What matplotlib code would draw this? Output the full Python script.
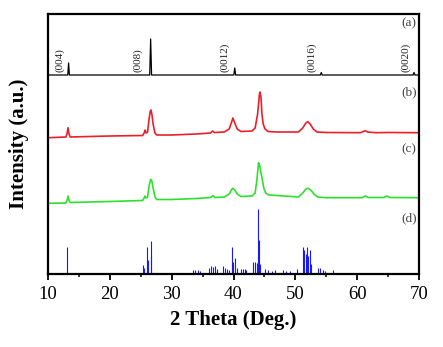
import matplotlib
matplotlib.use("Agg")
import matplotlib.pyplot as plt
from matplotlib.ticker import MultipleLocator

plt.rcParams["font.family"] = ["Liberation Serif", "DejaVu Serif"]

# (a) reference pattern: angle / intensity pairs (offset baseline)
a_x = [10.0, 13.2, 13.33, 13.46, 26.45, 26.6, 26.75, 40.05, 40.2, 40.35,
       54.05, 54.2, 54.35, 69.05, 69.2, 69.35, 70.0]
a_y = [199, 199, 211, 199, 199, 235, 199, 199, 206, 199,
       199, 201.5, 199, 199, 201.5, 199, 199]

# (b) sample pattern
b_x = [10.0, 12.9, 13.1, 13.25, 13.4, 13.6, 20.0, 25.3, 25.55, 25.7, 25.85,
       26.1, 26.35, 26.55, 26.65, 26.8, 27.0, 27.3, 27.6, 30.0, 34.0, 36.3,
       36.6, 36.9, 38.5, 39.3, 39.7, 39.9, 40.2, 40.6, 41.2, 43.0, 43.5, 43.9,
       44.2, 44.3, 44.45, 44.6, 44.8, 45.1, 45.6, 47.0, 50.5, 51.2, 51.7,
       52.0, 52.4, 52.9, 53.5, 55.0, 60.5, 61.0, 61.3, 61.7, 63.0, 65.0, 70.0]
b_y = [136.3, 137, 141, 146.3, 140, 137, 138, 138.5, 141, 144, 141,
       142, 155, 163, 164, 160, 150, 141, 139, 139, 140, 141,
       143, 141.5, 142, 145, 152, 156, 151, 145, 142.5, 143, 146, 160,
       180, 182, 176, 160, 150, 145, 142.5, 142, 142, 146, 151,
       152.3, 150, 145, 142, 141.5, 141.3, 142.5, 143.3, 142, 141.3, 141.5, 141.3]

# (c) sample pattern
c_x = [10.0, 12.9, 13.1, 13.25, 13.4, 13.6, 20.0, 25.3, 25.55, 25.7, 25.85,
       26.1, 26.35, 26.6, 26.8, 27.0, 27.3, 27.6, 30.0, 34.0, 36.3, 36.7,
       37.0, 38.5, 39.3, 39.7, 39.9, 40.2, 40.6, 41.2, 43.0, 43.5, 43.8,
       44.05, 44.25, 44.45, 44.65, 44.9, 45.2, 45.7, 47.0, 50.5, 51.2, 51.7,
       52.05, 52.5, 53.0, 53.6, 55.0, 60.8, 61.3, 61.8, 64.3, 64.8, 65.3, 70.0]
c_y = [70.7, 71, 74, 78, 73.5, 71.5, 72.5, 73.5, 76, 78, 76,
       77, 88, 94.7, 93, 86, 77, 74.5, 74.5, 75.5, 76.5, 78.3,
       76.5, 77, 80, 84.5, 85.7, 84, 80, 77.5, 78, 81, 95,
       111.3, 108, 101, 95, 86, 81, 79, 78.5, 77, 81, 85,
       85.7, 84, 80, 77, 76.3, 76.3, 78, 76.5, 76.5, 78, 76.5, 76.3]

# (d) standard reflections (stick pattern)
d_pos = [13.07, 25.3, 25.5, 26.0, 26.2, 26.6, 26.7,
         33.4, 33.8, 34.2, 34.6, 36.0, 36.4, 36.7, 37.0, 37.3,
         38.3, 38.6, 38.9, 39.2, 39.8, 39.95, 40.2, 40.5,
         41.2, 41.5, 41.8, 42.1, 43.2, 43.5, 43.75, 44.0, 44.15, 44.3,
         45.1, 45.6, 46.2, 46.7, 48.0, 48.5, 49.1, 50.3,
         51.2, 51.4, 51.7, 51.9, 52.1, 52.3, 52.5,
         53.7, 54.0, 54.4, 54.8, 56.1]
d_int = [27, 9, 6, 27, 14, 33, 18,
         4, 4, 4, 3, 6, 8, 7, 8, 5,
         8, 6, 5, 4, 27, 12, 16, 6,
         5, 5, 5, 4, 12, 12, 11, 65, 34, 10,
         5, 4, 3, 4, 4, 3, 3, 5,
         27, 24, 20, 27, 18, 24, 10,
         6, 6, 4, 3, 4]

hkl_labels = ["(004)", "(008)", "(0012)", "(0016)", "(0020)"]
hkl_pos = [11.9, 24.5, 38.6, 52.7, 67.8]
panel_labels = ["(a)", "(b)", "(c)", "(d)"]
panel_y = [251, 182, 125, 56]

fig = plt.figure(figsize=(4.43, 3.47), dpi=100)
ax = fig.add_axes([48 / 443, 73 / 347, 371 / 443, 260 / 347])

ax.plot(a_x, a_y, color="black", lw=0.9)
ax.plot(b_x, b_y, color="#e8202a", lw=1.2)
ax.plot(c_x, c_y, color="#2ee02e", lw=1.2)
ax.vlines(d_pos, 0, d_int, color="#1a1aee", lw=0.8)

for lab, xp in zip(hkl_labels, hkl_pos):
    ax.text(xp, 202, lab, rotation=90, ha="center", va="bottom",
            fontsize=8, color="#222222")

for lab, yp in zip(panel_labels, panel_y):
    ax.text(69.6, yp, lab, ha="right", va="center", fontsize=9.5,
            color="#444444")

ax.set_xlim(10, 70)
ax.set_ylim(0, 260)
ax.set_yticks([])
ax.xaxis.set_major_locator(MultipleLocator(10))
ax.xaxis.set_minor_locator(MultipleLocator(5))
ax.tick_params(axis="x", which="major", direction="out", length=4.5,
               width=1.3, labelsize=13.5, pad=4)
ax.tick_params(axis="x", which="minor", direction="out", length=2.5,
               width=1.1)
for sp in ax.spines.values():
    sp.set_linewidth(1.6)

ax.set_xlabel("2 Theta (Deg.)", fontsize=15, fontweight="bold", labelpad=5)
ax.set_ylabel("Intensity (a.u.)", fontsize=15, fontweight="bold", labelpad=14)

fig.savefig("out.png", dpi=100)
